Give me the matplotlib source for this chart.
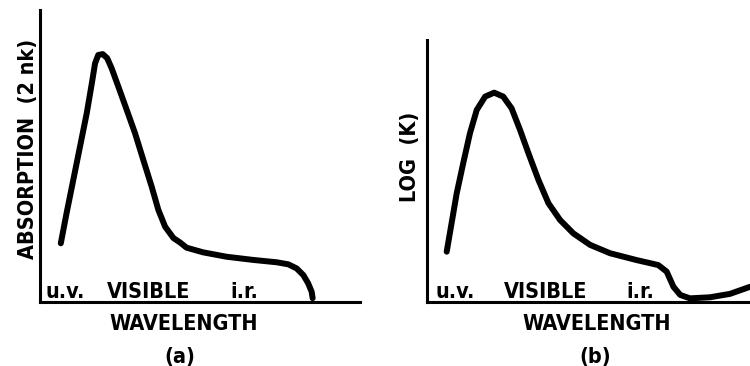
import matplotlib
matplotlib.use('Agg')
import matplotlib.pyplot as plt

# curve (a): absorption vs wavelength (arbitrary units)
wl_a = [6.5, 8.3, 10.4, 12.5, 14.6, 16.2, 17.2, 18.2, 19.6, 21.0, 22.4, 24.5,
        27.1, 29.7, 32.3, 34.9, 37.0, 39.1, 41.7, 43.75, 45.8, 51.0, 58.3, 66.7,
        74.0, 77.6, 80.2, 82.3, 83.8, 84.9, 85.2]
absorb_a = [20.1, 30.4, 41.8, 53.2, 64.6, 74.9, 81.7, 84.6, 84.9, 83.5, 80.0, 73.7,
            65.8, 57.8, 48.6, 39.5, 31.5, 25.8, 21.9, 20.4, 18.6, 17.0, 15.5, 14.4,
            13.6, 12.9, 11.5, 9.2, 6.4, 3.5, 1.3]

# curve (b): log(K) vs wavelength
wl_b = [6.1, 7.6, 9.2, 11.2, 13.3, 15.4, 18.0, 20.8, 23.6, 26.2, 28.8, 31.4,
        34.5, 37.6, 41.2, 45.3, 50.5, 56.7, 64.9, 71.6, 74.2, 76.3, 78.4, 81.4,
        87.6, 93.8, 100]
logk_b = [19.2, 30.0, 41.5, 52.9, 64.4, 73.3, 78.4, 79.9, 78.4, 73.9, 65.7, 56.8,
          46.6, 37.7, 31.3, 26.2, 21.8, 18.6, 16.0, 14.1, 11.6, 5.8, 2.7, 1.4,
          1.8, 3.1, 5.8]

band_labels = ['u.v.', 'VISIBLE', 'i.r.']
band_x_a = [7.8, 33.8, 64.0]
band_x_b = [8.7, 36.8, 65.9]

font = dict(family='DejaVu Sans', weight='bold', fontstretch='condensed', size=15.5)

fig = plt.figure(figsize=(7.5, 3.66), dpi=100)
ax_a = fig.add_axes([40/750, 64/366, 320/750, 292/366])
ax_b = fig.add_axes([427/750, 64/366, 323/750, 262/366])

for ax, x, y, bx in [(ax_a, wl_a, absorb_a, band_x_a), (ax_b, wl_b, logk_b, band_x_b)]:
    ax.plot(x, y, color='black', lw=4.3, solid_capstyle='round', solid_joinstyle='round')
    ax.set_xlim(0, 100)
    ax.set_ylim(0, 100)
    for s in ['top', 'right']:
        ax.spines[s].set_visible(False)
    for s in ['left', 'bottom']:
        ax.spines[s].set_linewidth(2.2)
    ax.set_xticks([])
    ax.set_yticks([])
    for lab, xx in zip(band_labels, bx):
        ax.text(xx, 1.5, lab, ha='center', va='baseline', **font)

fig.text(184/750, 1 - 323.5/366, 'WAVELENGTH', ha='center', va='center', **font)
fig.text(597/750, 1 - 323.5/366, 'WAVELENGTH', ha='center', va='center', **font)
fig.text(180/750, 1 - 357/366, '(a)', ha='center', va='center', **font)
fig.text(595/750, 1 - 357/366, '(b)', ha='center', va='center', **font)
fig.text(28/750, 1 - 149/366, 'ABSORPTION  (2 nk)', ha='center', va='center', rotation=90, **font)
fig.text(410/750, 1 - 157/366, 'LOG  (K)', ha='center', va='center', rotation=90, **font)

fig.savefig('out.png', dpi=100)
